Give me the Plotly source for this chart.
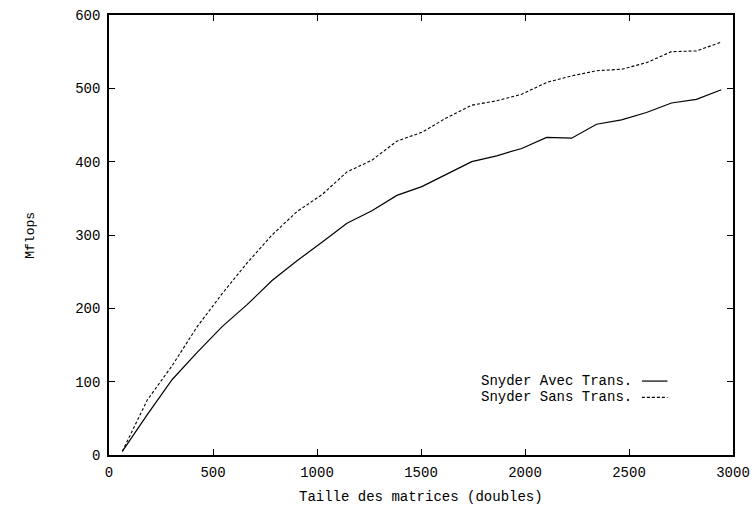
import plotly.graph_objects as go

sizes = [64, 184, 304, 424, 544, 664, 784, 904, 1024, 1144, 1264, 1384, 1504,
         1624, 1744, 1864, 1984, 2104, 2224, 2344, 2464, 2584, 2704, 2824, 2944]
avec_trans = [5, 55, 103, 140, 175, 205, 238, 265, 290, 316, 333, 354, 366,
              383, 400, 408, 418, 433, 432, 451, 457, 467, 480, 485, 498]
sans_trans = [5, 75, 122, 175, 220, 262, 300, 332, 355, 386, 402, 428, 440,
              460, 477, 483, 492, 508, 517, 524, 526, 535, 550, 551, 563]

x_ticks = [0, 500, 1000, 1500, 2000, 2500, 3000]
y_ticks = [0, 100, 200, 300, 400, 500, 600]

FONT = "Liberation Mono, Courier New, monospace"

fig = go.Figure()
fig.add_trace(go.Scatter(x=sizes, y=avec_trans, mode="lines", name="Snyder Avec Trans.",
                         line=dict(color="black", width=1.2), showlegend=False))
fig.add_trace(go.Scatter(x=sizes, y=sans_trans, mode="lines", name="Snyder Sans Trans.",
                         line=dict(color="black", width=1.1, dash="3px,2px"), showlegend=False))

axis_common = dict(showgrid=False, zeroline=False, showline=True, linecolor="black",
                   linewidth=1.5, mirror="ticks", ticks="inside", ticklen=6,
                   tickcolor="black", automargin=False,
                   tickfont=dict(family=FONT, size=14, color="black"))

fig.update_xaxes(range=[0, 3000], tickvals=x_ticks, ticklabelstandoff=3, **axis_common)
fig.update_yaxes(range=[0, 600], tickvals=y_ticks, ticklabelstandoff=4, **axis_common)

# axis titles
fig.add_annotation(x=0.5, y=-0.095, xref="paper", yref="paper", xanchor="center", yanchor="middle",
                   text="Taille des matrices (doubles)", showarrow=False,
                   font=dict(family=FONT, size=14, color="black"))
fig.add_annotation(x=-0.127, y=0.5, xref="paper", yref="paper", xanchor="center", yanchor="middle",
                   text="Mflops", showarrow=False, textangle=-90,
                   font=dict(family=FONT, size=13, color="black"))

# legend drawn as text + line samples (text left of the sample, as in the original)
fig.add_annotation(x=0.842, y=0.168, xref="paper", yref="paper", xanchor="right", yanchor="middle",
                   text="Snyder Avec Trans.", showarrow=False, font=dict(family=FONT, size=14, color="black"))
fig.add_annotation(x=0.842, y=0.131, xref="paper", yref="paper", xanchor="right", yanchor="middle",
                   text="Snyder Sans Trans.", showarrow=False, font=dict(family=FONT, size=14, color="black"))
fig.add_shape(type="line", xref="paper", yref="paper", x0=0.854, x1=0.895, y0=0.168, y1=0.168,
              line=dict(color="black", width=1.2))
fig.add_shape(type="line", xref="paper", yref="paper", x0=0.854, x1=0.895, y0=0.131, y1=0.131,
              line=dict(color="black", width=1.1, dash="3px,2px"))

fig.update_layout(width=752, height=509, paper_bgcolor="white", plot_bgcolor="white",
                  margin=dict(l=109, r=19, t=15, b=54), showlegend=False)

# remove the browser's default 8px body margin so the figure fills the window exactly
fig.write_html("out.html", config={"displayModeBar": False},
               post_script="document.body.style.margin='0';document.body.style.overflow='hidden';")
